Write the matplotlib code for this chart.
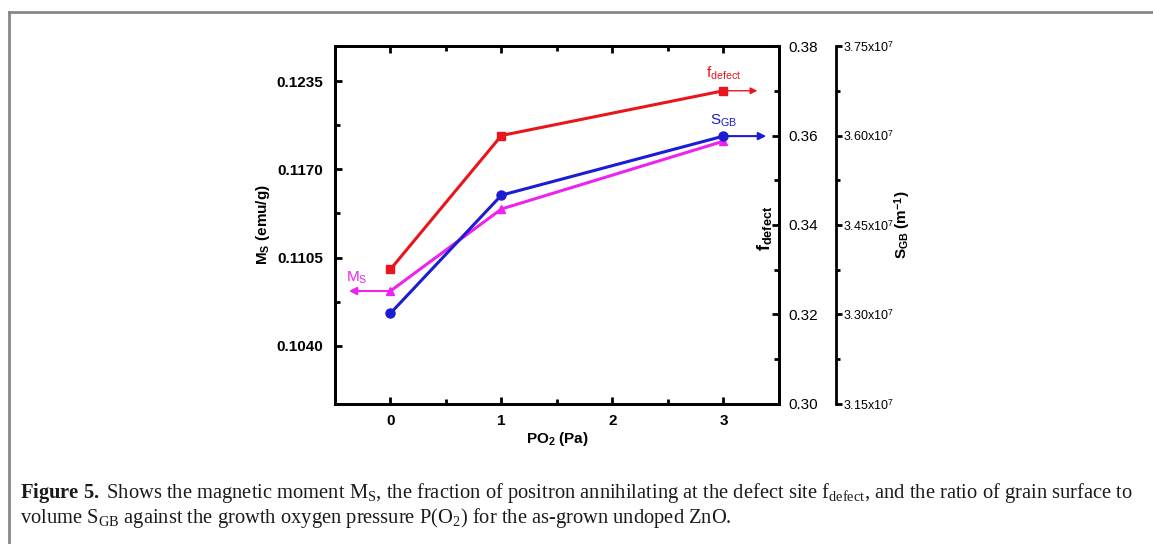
import matplotlib
matplotlib.use('Agg')
import matplotlib.pyplot as plt
from matplotlib.ticker import FixedLocator, MultipleLocator, FuncFormatter

plt.rcParams['font.family'] = ['Liberation Sans', 'DejaVu Sans']
plt.rcParams['mathtext.fontset'] = 'custom'
plt.rcParams['mathtext.rm'] = 'Liberation Serif'
plt.rcParams['mathtext.bf'] = 'Liberation Serif:bold'
plt.rcParams['mathtext.it'] = 'Liberation Serif:italic'

# 数据
po2 = [0, 1, 3]
ms = [0.10803, 0.11408, 0.11908]          # emu/g
f_defect = [0.3301, 0.3600, 0.3700]
s_gb = [3.302e7, 3.500e7, 3.599e7]        # m^-1

ms_ticks = [0.1040, 0.1105, 0.1170, 0.1235]
f_ticks = [0.30, 0.32, 0.34, 0.36, 0.38]
s_ticks = [3.15e7, 3.30e7, 3.45e7, 3.60e7, 3.75e7]

red = '#e8161c'
blue = '#1c1cd4'
magenta = '#ee22ee'

fig = plt.figure(figsize=(11.53, 5.44), dpi=100)
ax = fig.add_axes([0.2905, 0.2574, 0.3851, 0.658])
ax2 = ax.twinx()
ax3 = ax.twinx()
ax3.spines['right'].set_position(('axes', 1.128))

# 曲线
ax.plot(po2, ms, '-^', color=magenta, lw=2.2, ms=6, zorder=3)
ax2.plot(po2, f_defect, '-s', color=red, lw=2.2, ms=6, zorder=3)
ax3.plot(po2, s_gb, '-o', color=blue, lw=2.2, ms=6.5, zorder=3)

# 坐标范围
ax.set_xlim(-0.5, 3.5)
ax.set_ylim(0.0997, 0.1261)
ax2.set_ylim(0.30, 0.38)
ax3.set_ylim(3.15e7, 3.75e7)

# 刻度
ax.xaxis.set_major_locator(FixedLocator(po2 + [2]))
ax.xaxis.set_minor_locator(MultipleLocator(0.5))
ax.yaxis.set_major_locator(FixedLocator(ms_ticks))
ax.yaxis.set_minor_locator(FixedLocator([t + 0.00325 for t in ms_ticks]))
ax.yaxis.set_major_formatter(FuncFormatter(lambda v, p: f'{v:.4f}'))
ax.tick_params(axis='both', which='both', direction='in', width=2, labelsize=11, top=True, right=False)
ax.tick_params(axis='y', which='major', length=5, pad=8.5)
ax.tick_params(axis='x', which='major', length=5, pad=7)
ax.tick_params(which='minor', length=3.5)
for lab in ax.get_xticklabels() + ax.get_yticklabels():
    lab.set_fontweight('bold')

ax2.yaxis.set_major_locator(FixedLocator(f_ticks))
ax2.yaxis.set_minor_locator(MultipleLocator(0.01))
ax2.yaxis.set_major_formatter(FuncFormatter(lambda v, p: f'{v:.2f}'))
ax2.tick_params(axis='y', which='both', direction='in', width=2, labelsize=11, pad=7)
ax2.tick_params(which='major', length=5)
ax2.tick_params(which='minor', length=3.5)

ax3.yaxis.set_major_locator(FixedLocator(s_ticks))
ax3.yaxis.set_minor_locator(FixedLocator([t + 0.075e7 for t in s_ticks[:-1]]))
ax3.yaxis.set_major_formatter(FuncFormatter(
    lambda v, p: r'%.2fx10$^{\mathregular{7}}$' % (v / 1e7)))
ax3.tick_params(axis='y', which='both', direction='out', width=2, labelsize=9, pad=1)
ax3.tick_params(which='major', length=4)
ax3.tick_params(which='minor', length=3)

for a in (ax, ax2, ax3):
    for s in a.spines.values():
        s.set_linewidth(2)
ax3.spines['left'].set_visible(False)
ax3.spines['top'].set_visible(False)
ax3.spines['bottom'].set_visible(False)

# 轴标签
ax.set_xlabel(r'PO$_\mathregular{2}$ (Pa)', fontsize=11, fontweight='bold', labelpad=2)
ax.set_ylabel(r'M$_\mathregular{S}$ (emu/g)', fontsize=11, fontweight='bold', labelpad=3)
ax2.set_ylabel(r'f$_\mathregular{defect}$', fontsize=13, fontweight='bold')
ax2.yaxis.set_label_coords(0.947, 0.49)
ax3.set_ylabel(r'S$_\mathregular{GB}$ (m$^{\mathregular{-1}}$)', fontsize=11, fontweight='bold', labelpad=-1)

# 箭头和标注
ax.annotate('', xy=(-0.40, ms[0]), xytext=(po2[0], ms[0]),
            arrowprops=dict(arrowstyle='-|>', color=magenta, lw=1.5, mutation_scale=11))
ax.text(-0.30, ms[0] + 0.0004, r'M$_\mathregular{S}$', color=magenta, fontsize=11, ha='center', va='bottom')
ax2.annotate('', xy=(3.33, f_defect[2]), xytext=(po2[2], f_defect[2]),
             arrowprops=dict(arrowstyle='-|>', color=red, lw=1, mutation_scale=10))
ax2.text(3.0, f_defect[2] + 0.002, r'f$_\mathregular{defect}$', color=red, fontsize=11, ha='center', va='bottom')
ax3.annotate('', xy=(3.41, s_gb[2]), xytext=(po2[2], s_gb[2]),
             arrowprops=dict(arrowstyle='-|>', color=blue, lw=1.5, mutation_scale=11))
ax3.text(3.0, s_gb[2] + 0.012e7, r'S$_\mathregular{GB}$', color=blue, fontsize=11, ha='center', va='bottom')

# 边框
fig.add_artist(plt.Line2D([9 / 1153, 9 / 1153], [0, 1 - 12 / 544], transform=fig.transFigure, color='#888888', lw=2))
fig.add_artist(plt.Line2D([9 / 1153, 1], [1 - 12 / 544, 1 - 12 / 544], transform=fig.transFigure, color='#888888', lw=2))

# 图注
cap1 = (r'$\mathbf{Figure\ 5.}$ Shows the magnetic moment M$_{\mathrm{S}}$, the fraction of positron annihilating '
        r'at the defect site f$_{\mathrm{defect}}$, and the ratio of grain surface to')
cap2 = (r'volume S$_{\mathrm{GB}}$ against the growth oxygen pressure P(O$_{\mathrm{2}}$) '
        r'for the as-grown undoped ZnO.')
fig.text(20 / 1153, 1 - 493 / 544, cap1, family='Liberation Serif', fontsize=14.8, va='center', color='#1a1a1a')
fig.text(20 / 1153, 1 - 518 / 544, cap2, family='Liberation Serif', fontsize=14.8, va='center', color='#1a1a1a')

fig.savefig('out.png', dpi=100)
